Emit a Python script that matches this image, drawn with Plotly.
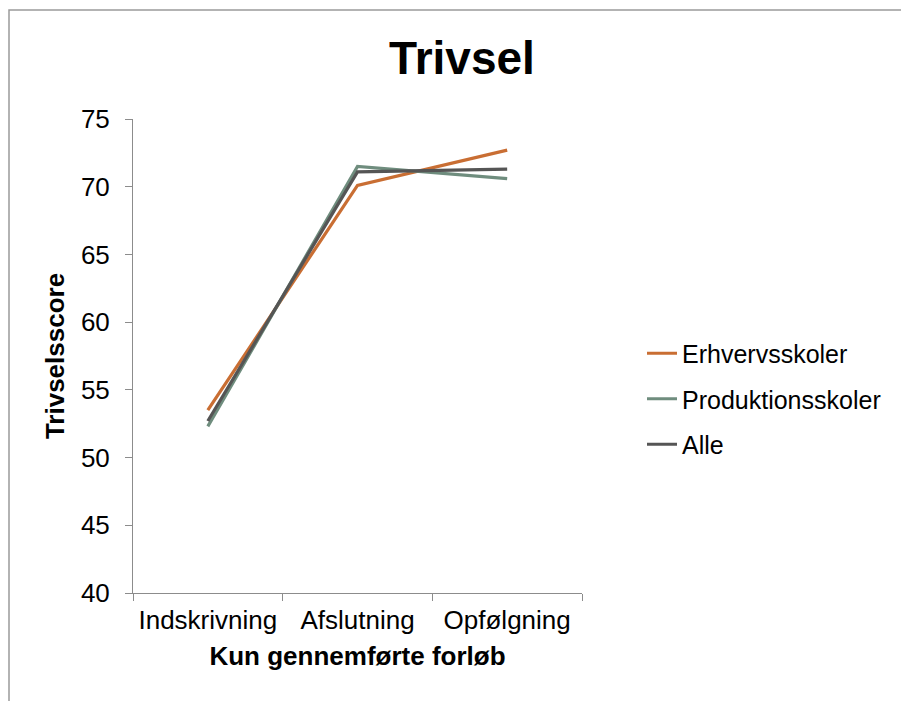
import plotly.graph_objects as go

categories = ["Indskrivning", "Afslutning", "Opfølgning"]
erhvervsskoler = [53.5, 70.1, 72.7]
produktionsskoler = [52.3, 71.5, 70.6]
alle = [52.7, 71.1, 71.3]

series_names = ["Erhvervsskoler", "Produktionsskoler", "Alle"]
series_values = [erhvervsskoler, produktionsskoler, alle]
colors = ["#C96E33", "#6F8D7E", "#555555"]

y_ticks = [40, 45, 50, 55, 60, 65, 70, 75]

FONT = "Liberation Sans, Arial, sans-serif"

fig = go.Figure()
for name, vals, col in zip(series_names, series_values, colors):
    fig.add_trace(go.Scatter(
        x=categories, y=vals, name=name, mode="lines",
        line=dict(color=col, width=3.2), legendgroup=name,
    ))

OFF = 8  # page body margin
W, H = 909, 701
L, T = 133 - OFF, 119 - OFF
R = W - (582 - OFF)
B = H - (593 - OFF)
pw, ph = W - L - R, H - T - B

def px_to_paper_x(px):
    return (px - OFF - L) / pw

def px_to_paper_y(py):
    return (H - B - (py - OFF)) / ph

fig.update_layout(
    width=W, height=H,
    margin=dict(l=L, r=R, t=T, b=B),
    paper_bgcolor="white", plot_bgcolor="white",
    font=dict(family=FONT, color="black"),
    title=dict(text="<b>Trivsel</b>", font=dict(size=46, family=FONT, color="black"),
               x=(462 - OFF) / W, xanchor="center", y=1 - (58 - OFF) / H, yanchor="middle"),
    showlegend=True,
    legend=dict(x=px_to_paper_x(642), xanchor="left", y=px_to_paper_y(399), yanchor="middle",
                font=dict(size=25, family=FONT, color="black"), tracegroupgap=10,
                bgcolor="rgba(0,0,0,0)"),
    xaxis=dict(
        type="category", range=[-0.5, 2.5], tickson="boundaries",
        ticks="outside", ticklen=7, tickcolor="#8c8c8c", tickwidth=1,
        showline=True, linecolor="#8c8c8c", linewidth=1, showgrid=False, zeroline=False,
        tickfont=dict(size=26, family=FONT, color="black"), ticklabelstandoff=4,
        title=dict(text="<b>Kun gennemførte forløb</b>", font=dict(size=26, family=FONT, color="black"),
                   standoff=12),
    ),
    yaxis=dict(
        range=[40, 75], tickvals=y_ticks, ticks="outside", ticklen=7, tickcolor="#8c8c8c",
        showline=True, linecolor="#8c8c8c", linewidth=1, showgrid=False, zeroline=False,
        tickfont=dict(size=26, family=FONT, color="black"), ticklabelstandoff=10,
        title=dict(text="<b>Trivselsscore</b>", font=dict(size=26, family=FONT, color="black"),
                   standoff=8),
    ),
    shapes=[dict(type="rect", xref="paper", yref="paper",
                 x0=px_to_paper_x(9), x1=px_to_paper_x(W + 20),
                 y0=px_to_paper_y(H + 20), y1=px_to_paper_y(10),
                 line=dict(color="#9a9a9a", width=1.5), fillcolor="rgba(0,0,0,0)", layer="below")],
)

fig.write_html("out.html")
